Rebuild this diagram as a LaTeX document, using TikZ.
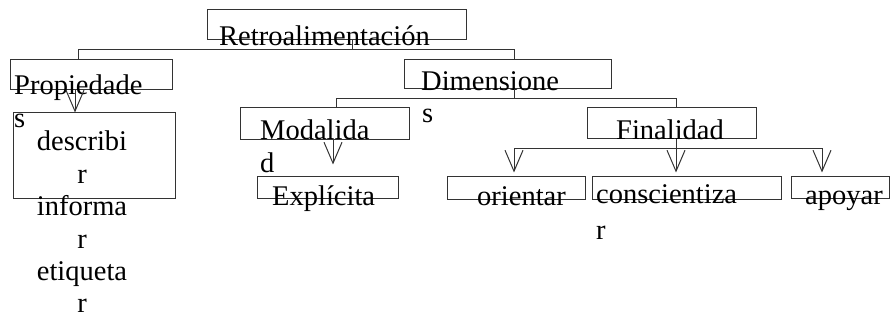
\documentclass[tikz,border=0pt]{standalone}
\usepackage{fontspec}
\setmainfont{Liberation Serif}
\usetikzlibrary{arrows.meta}

\begin{document}
\begin{tikzpicture}[x=1pt,y=-1pt]
        \tikzstyle{box} = [draw=black!80, line width=1pt, inner sep=0pt]
        \tikzstyle{txt} = [inner sep=0pt, anchor=base west, font=\fontsize{28.5}{33}\selectfont]
        \tikzstyle{line} = [draw=black!80, line width=1pt]
        \tikzstyle{arr} = [line, -{Straight Barb[length=21pt,width=18pt]}]
        \useasboundingbox (0,0) rectangle (892,320);
        % boxes
        \node[box, minimum width=259pt, minimum height=30pt] (retro) at (336.5,25) {};
        \node[box, minimum width=162pt, minimum height=30pt] (prop) at (91,75) {};
        \node[box, minimum width=207pt, minimum height=29pt] (dim) at (507.5,74.5) {};
        \node[box, minimum width=162pt, minimum height=86pt] (desc) at (94,156) {};
        \node[box, minimum width=169pt, minimum height=32pt] (moda) at (324.5,124) {};
        \node[box, minimum width=169pt, minimum height=31pt] (fina) at (671.5,123.5) {};
        \node[box, minimum width=141pt, minimum height=22pt] (expl) at (327.5,188) {};
        \node[box, minimum width=138pt, minimum height=23pt] (orie) at (516,188.5) {};
        \node[box, minimum width=189pt, minimum height=23pt] (conc) at (686.5,188.5) {};
        \node[box, minimum width=98pt, minimum height=22pt] (apoy) at (840,188) {};
        % texts
        \node[txt] (tretro) at (219,46) {Retroalimentación};
        \node[txt] (tprop) at (14,95) {Propiedade};
        \node[txt] (tprops) at (14,128) {s};
        \node[txt] (tdim) at (421,91) {Dimensione};
        \node[txt] (tdims) at (422,123) {s};
        \node[txt] (tmoda) at (260,140) {Modalida};
        \node[txt] (tmodad) at (260,173) {d};
        \node[txt] (tfina) at (616,140) {Finalidad};
        \node[txt] (texpl) at (272,206) {Explícita};
        \node[txt] (torie) at (477,206) {orientar};
        \node[txt] (tconc) at (596,204) {conscientiza};
        \node[txt] (tconcr) at (596,240) {r};
        \node[txt] (tapoy) at (805,205) {apoyar};
        \foreach \w [count=\i] in {describi,r,informa,r,etiqueta,r}
            \node[txt, anchor=base] (tdesc\i) at (82,151+32.4*\i-32.4) {\w};
        % connectors
        \draw[line] ([xshift=15.5pt]retro.south) -- ++(0,10);
        \draw[line] ([xshift=-13pt]prop.north) -- ++(0,-10) -| ([xshift=6.5pt]dim.north);
        \draw[line] ([xshift=6.5pt]dim.south) -- ++(0,10);
        \draw[line] ([xshift=11.5pt]moda.north) -- ++(0,-9) -| ([xshift=4.5pt]fina.north);
        \draw[line] ([xshift=4.5pt]fina.south) -- ++(0,10);
        \draw[line] ([xshift=-2pt,yshift=28pt]orie.north) -- ([xshift=-18pt,yshift=28pt]apoy.north);
        \draw[arr] ([xshift=-16pt]prop.south) -- ([xshift=-19pt]desc.north);
        \draw[arr] ([xshift=8.5pt]moda.south) -- ([xshift=5.5pt,yshift=12pt]expl.north);
        \foreach \to/\dx in {orie/-2, conc/-10.5, apoy/-18}
            \draw[arr] ([xshift=\dx pt,yshift=28pt]\to.north) -- ([xshift=\dx pt,yshift=4pt]\to.north);
\end{tikzpicture}
\end{document}
